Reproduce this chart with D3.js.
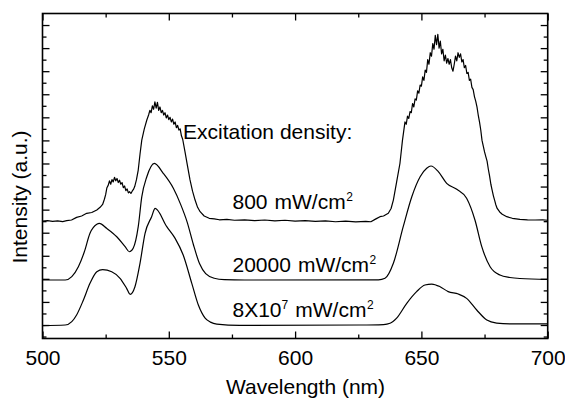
<!DOCTYPE html>
<html>
<head>
<meta charset="utf-8">
<script src="https://cdn.jsdelivr.net/npm/d3@7"></script>
<style>
body { margin: 0; background: #fff; }
svg { display: block; font-family: "Liberation Sans", Arial, Helvetica, sans-serif; }
</style>
</head>
<body>
<svg id="chart" width="565" height="401"></svg>
<script>
// x ticks
const xMajor = [500, 550, 600, 650, 700];
const xMinor = [525, 575, 625, 675];
// y ticks (unlabelled, arbitrary units)
const yMajor = [0, 2, 4, 6, 8, 10, 12, 14, 16, 18, 20, 22, 24, 26];
const yMinor = [-1, 1, 3, 5, 7, 9, 11, 13, 15, 17, 19, 21, 23, 25];

// 800 mW/cm2 (noisy spectrum, stacked on top)
const wlLow = [500, 502, 504, 506, 508, 509.6, 511.5, 513.5, 515.5, 517.5, 519.5, 521.5, 522.8, 523.8,
  524.5, 525, 525.5, 526, 526.5, 527, 527.5, 528, 528.5, 529, 529.5, 530, 530.5, 531, 531.5, 532, 532.5,
  533, 533.5, 534, 534.5, 535, 535.5, 536, 536.5, 537.2, 537.9, 538.6, 539.3, 540.3, 541.3,
  542, 542.5, 543, 543.5, 544, 544.5, 545, 545.5, 546, 546.5, 547, 547.5, 548, 548.5, 549, 549.5,
  550, 550.5, 551, 551.5, 552, 552.5, 553, 553.5, 554, 554.5, 555, 555.5, 556.4, 557.4, 558.4, 559.4,
  560.4, 561.4, 562.4, 564, 566, 568, 570, 573, 576, 580, 584, 588, 592, 596, 600, 604, 608, 612, 616,
  620, 624, 628, 630, 632, 633.6, 635, 636.9, 638, 638.9, 640.2, 641.5, 642, 642.5, 643, 643.5, 644,
  644.5, 645, 645.5, 646, 646.5, 647, 647.5, 648, 648.5, 649, 649.5, 650, 650.5, 651, 651.5, 652,
  652.5, 653, 653.5, 654, 654.5, 655, 655.5, 656, 656.5, 657, 657.5, 658, 658.5, 659, 659.5, 660,
  660.5, 661, 661.5, 662, 662.5, 663, 663.5, 664, 664.5, 665, 665.5, 666, 666.5, 667, 667.5, 668,
  668.5, 669, 669.5, 670, 670.5, 671, 671.5, 672, 672.5, 673, 673.5, 674, 674.5, 675, 675.5, 676,
  676.5, 677, 677.5, 678, 678.5, 679, 679.5, 680, 681, 682, 683.8, 686, 689, 692, 695, 698, 700];
const intLow = [9.0, 9.04, 8.98, 9.02, 8.96, 9.04, 9.1, 9.33, 9.45, 9.68, 9.75, 9.97, 10.2, 10.45,
  10.9, 11.3, 11.9, 12.1, 12.5, 12.2, 12.6, 12.4, 12.8, 12.5, 12.7, 12.35, 12.55, 12.2, 12.35, 11.9, 12.05,
  11.65, 11.8, 11.45, 11.55, 11.4, 11.6, 11.75, 12.0, 12.6, 13.43, 14.8, 16.03, 17.0, 17.77,
  18.2, 18.6, 18.4, 19.0, 18.7, 19.35, 18.8, 19.3, 18.6, 18.9, 18.4, 18.6, 18.2, 18.4, 17.95, 18.2,
  17.8, 18.0, 17.6, 17.85, 17.4, 17.6, 17.1, 17.3, 16.9, 17.0, 16.4, 16.1, 15.02, 13.8, 12.57, 11.6,
  10.83, 10.2, 9.82, 9.45, 9.25, 9.2, 9.12, 9.16, 9.08, 9.12, 9.05, 9.1, 9.02, 9.08, 9.0, 9.05, 8.98, 9.03, 8.95,
  9.0, 8.94, 8.98, 8.95, 9.2, 9.39, 9.45, 9.68, 10.1, 10.83, 12.4, 14.0, 15.0, 16.0, 16.8, 17.6, 17.4,
  18.1, 17.9, 18.5, 18.4, 19.2, 18.9, 19.6, 19.5, 20.3, 20.1, 20.8, 20.7, 21.5, 21.2, 22.1, 21.9,
  23.0, 22.6, 23.6, 23.3, 24.4, 23.9, 25.1, 24.3, 25.2, 24.0, 24.6, 23.5, 23.9, 22.9, 23.4, 22.7,
  23.1, 22.6, 23.0, 22.3, 22.0, 22.6, 23.3, 22.9, 23.6, 23.2, 23.5, 22.8, 23.0, 22.3, 22.5, 21.8,
  21.9, 21.2, 21.3, 20.6, 20.4, 19.8, 19.4, 18.9, 18.2, 17.6, 16.9, 16.0, 15.5, 15.0, 14.6, 14.2,
  13.5, 12.9, 12.2, 11.7, 11.2, 10.8, 10.4, 10.1, 9.8, 9.6, 9.39, 9.25, 9.16, 9.12, 9.1, 9.12, 9.08];

// 20000 mW/cm2
const wlMid = [500, 509, 511.6, 514.2, 516.5, 518.8, 521.5, 522.5, 525.4, 529.4, 532.7, 534.4, 535.9, 537.9, 539.3,
  541.3, 544.3, 547.8, 551.8, 554.6, 557.3, 559.7, 562.2, 564.6, 568, 572, 580, 633, 635.6, 638.9, 642.8,
  646.2, 649.5, 652.1, 653.8, 656.7, 660, 664, 667.9, 671.2, 673.9, 677.2, 681.1, 685, 689, 700];
const intMid = [3.9, 3.9, 4.19, 5.05, 6.3, 7.95, 8.73, 8.81, 8.38, 7.65, 6.79, 6.35, 6.65, 8.52, 11.1,
  12.85, 14.01, 13.15, 11.85, 10.5, 8.9, 7.0, 5.3, 4.45, 4.05, 3.93, 3.9, 3.92, 4.05, 5.35, 8.52,
  11.12, 12.85, 13.58, 13.78, 13.29, 12.28, 11.76, 10.98, 9.1, 6.79, 5.05, 4.33, 4.12, 4.03, 3.96];

// 8X10^7 mW/cm2
const wlHigh = [500, 509, 511.6, 513.5, 516.2, 518.8, 521.5, 523.8, 527.4, 530.7, 533.3, 534.7, 536.6, 538.6, 540.6,
  543.2, 544.6, 549.2, 552.5, 555.7, 559.1, 561.7, 564.3, 566.5, 569, 578, 625.7, 635, 637.6, 640.2, 644.2, 648.1,
  651.4, 654.1, 657.4, 660.6, 664.6, 667.9, 671.9, 675.9, 679.8, 685, 700];
const intHigh = [-0.05, 0, 0.29, 0.87, 2.17, 3.61, 4.62, 4.8, 4.62, 4.05, 3.18, 2.66, 3.32, 5.35, 7.95,
  9.39, 10.11, 8.52, 7.51, 6.07, 3.61, 1.73, 0.62, 0.25, 0.08, -0.04, 0, 0.04, 0.15, 0.6, 1.88, 2.89,
  3.47, 3.55, 3.32, 2.89, 2.69, 2.31, 1.3, 0.43, 0.17, 0.1, 0.09];

var svg = d3.select("#chart");
var pLeft = 42.5, pRight = 547.7, pTop = 13.5, pBottom = 338.5;

var x = d3.scaleLinear().domain([500, 700]).range([pLeft, pRight]);
var y = d3.scaleLinear().domain([-1.17, 27]).range([pBottom, pTop]);

function ticks(g){
	g.select(".domain").remove();
	g.selectAll("line").attr("stroke", "#000").attr("stroke-width", 1.3);
}

// bottom
svg.append("g").attr("transform", "translate(0," + pBottom + ")")
	.call(d3.axisBottom(x).tickValues(xMajor).tickSize(-7).tickPadding(11.5).tickFormat(d3.format("d")))
	.call(ticks)
	.selectAll("text").attr("font-size", "21px").attr("fill", "#000")
	.attr("font-family", "Liberation Sans, Arial, sans-serif");
svg.append("g").attr("transform", "translate(0," + pBottom + ")")
	.call(d3.axisBottom(x).tickValues(xMinor).tickSize(-4).tickFormat(""))
	.call(ticks);
// top
svg.append("g").attr("transform", "translate(0," + pTop + ")")
	.call(d3.axisTop(x).tickValues(xMajor).tickSize(-7).tickFormat(""))
	.call(ticks);
svg.append("g").attr("transform", "translate(0," + pTop + ")")
	.call(d3.axisTop(x).tickValues(xMinor).tickSize(-4).tickFormat(""))
	.call(ticks);
// left
svg.append("g").attr("transform", "translate(" + pLeft + ",0)")
	.call(d3.axisLeft(y).tickValues(yMajor).tickSize(-7).tickFormat(""))
	.call(ticks);
svg.append("g").attr("transform", "translate(" + pLeft + ",0)")
	.call(d3.axisLeft(y).tickValues(yMinor).tickSize(-4).tickFormat(""))
	.call(ticks);
// right
svg.append("g").attr("transform", "translate(" + pRight + ",0)")
	.call(d3.axisRight(y).tickValues(yMajor).tickSize(-7).tickFormat(""))
	.call(ticks);
svg.append("g").attr("transform", "translate(" + pRight + ",0)")
	.call(d3.axisRight(y).tickValues(yMinor).tickSize(-4).tickFormat(""))
	.call(ticks);

// frame
svg.append("rect")
	.attr("x", pLeft).attr("y", pTop)
	.attr("width", pRight - pLeft).attr("height", pBottom - pTop)
	.attr("fill", "none").attr("stroke", "#000").attr("stroke-width", 1.6);

// spectra
var lineSmooth = d3.line().x(d => x(d[0])).y(d => y(d[1])).curve(d3.curveMonotoneX);
var lineRaw = d3.line().x(d => x(d[0])).y(d => y(d[1]));

svg.append("path").datum(d3.zip(wlHigh, intHigh))
	.attr("d", lineSmooth).attr("fill", "none").attr("stroke", "#000").attr("stroke-width", 1.2);
svg.append("path").datum(d3.zip(wlMid, intMid))
	.attr("d", lineSmooth).attr("fill", "none").attr("stroke", "#000").attr("stroke-width", 1.2);
svg.append("path").datum(d3.zip(wlLow, intLow))
	.attr("d", lineRaw).attr("fill", "none").attr("stroke", "#000").attr("stroke-width", 1.2)
	.attr("stroke-linejoin", "round");

// labels
var fs = "21px";
svg.append("text").attr("x", 305.5).attr("y", 394).attr("text-anchor", "middle")
	.attr("font-size", fs).text("Wavelength (nm)");
svg.append("text").attr("transform", "translate(27,197) rotate(-90)").attr("text-anchor", "middle")
	.attr("font-size", fs).text("Intensity (a.u.)");
svg.append("text").attr("x", 183).attr("y", 138.5).attr("font-size", fs).text("Excitation density:");

function label(xp, yp, main, sup1, rest){
	var t = svg.append("text").attr("x", xp).attr("y", yp).attr("font-size", fs);
	t.append("tspan").text(main);
	if(sup1){
		t.append("tspan").attr("font-size", "12px").attr("dy", -8).text(sup1);
		t.append("tspan").attr("dy", 8).attr("dx", 7).text(rest);
	}
	else t.append("tspan").attr("dx", 7).text(rest);
	t.append("tspan").attr("font-size", "12px").attr("dy", -8).attr("dx", 0.5).text("2");
}
label(232.5, 209, "800", null, "mW/cm");
label(232.5, 271.5, "20000", null, "mW/cm");
label(232.5, 316.5, "8X10", "7", "mW/cm");
</script>
</body>
</html>
